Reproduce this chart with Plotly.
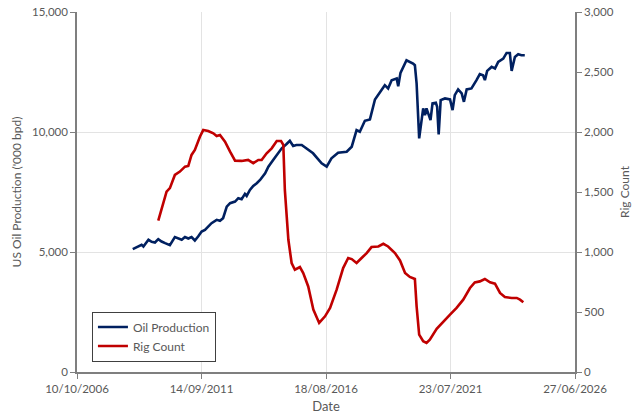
import plotly.graph_objects as go

oil_dates = [
    "2008-12-24", "2009-02-21", "2009-05-01", "2009-05-27", "2009-07-13", "2009-08-08",
    "2009-09-24", "2009-11-10", "2009-12-28", "2010-02-14", "2010-04-06", "2010-06-14",
    "2010-08-25", "2010-10-12", "2010-12-02", "2011-01-18", "2011-03-07", "2011-04-23",
    "2011-06-10", "2011-07-27", "2011-09-16", "2011-11-03", "2012-02-06", "2012-04-20",
    "2012-06-07", "2012-07-22", "2012-09-13", "2012-10-31", "2013-01-11", "2013-02-27",
    "2013-04-16", "2013-06-03", "2013-06-28", "2013-08-14", "2013-10-01", "2013-11-21",
    "2014-01-08", "2014-03-22", "2014-05-08", "2014-07-16", "2014-09-27", "2014-11-17",
    "2015-01-26", "2015-03-14", "2015-05-01", "2015-06-17", "2015-09-02",
    "2016-02-13", "2016-06-16", "2016-08-28", "2016-11-05", "2017-02-09",
    "2017-06-13", "2017-08-25", "2017-11-03", "2017-12-20", "2018-03-03", "2018-05-15",
    "2018-07-27", "2018-10-08", "2018-12-16", "2019-02-02", "2019-03-25", "2019-06-06",
    "2019-06-28", "2019-07-31", "2019-10-26", "2020-01-29", "2020-02-24", "2020-03-20",
    "2020-04-26", "2020-06-23", "2020-07-19", "2020-08-10", "2020-09-15", "2020-10-07",
    "2020-11-05", "2020-12-23", "2021-01-11", "2021-02-02", "2021-03-03", "2021-05-04",
    "2021-07-16", "2021-08-22", "2021-09-23", "2021-11-10", "2022-01-01", "2022-02-02",
    "2022-03-14", "2022-05-22", "2022-08-03", "2022-09-20", "2022-11-06", "2022-12-02",
    "2023-01-04", "2023-03-10", "2023-04-27", "2023-06-13", "2023-08-25", "2023-10-12",
    "2023-11-28", "2023-12-24", "2024-02-09", "2024-03-28", "2024-05-14", "2024-07-01",
]
oil_values = [
    5121, 5205, 5300, 5230, 5396, 5508,
    5425, 5396, 5537, 5437, 5371, 5288,
    5620, 5579, 5508, 5620, 5562, 5620,
    5479, 5645, 5853, 5924, 6202, 6340,
    6298, 6410, 6893, 7034, 7100, 7242,
    7200, 7420, 7337, 7587, 7753, 7865,
    8002, 8281, 8555, 8834, 9112, 9320,
    9499, 9636, 9416, 9457, 9457,
    9112, 8697, 8555, 8904, 9137,
    9179, 9387, 10081, 10010, 10467, 10526,
    11357, 11673, 11951, 11814, 12159, 12230,
    11910, 12463, 12991, 12854, 12783, 12022,
    9736, 10983, 10704, 10983, 10704, 10497,
    11191, 11216, 11050, 9902, 11328, 11398,
    11357, 10912, 11536, 11773, 11606, 11257,
    11773, 11814, 12159, 12409, 12367, 12159,
    12546, 12712, 12646, 12920, 13061, 13294,
    13294, 12546, 13128, 13240, 13198, 13198,
]

rig_dates = [
    "2009-12-28", "2010-02-14", "2010-04-27", "2010-06-14", "2010-08-25", "2010-11-06",
    "2011-01-18", "2011-03-07", "2011-04-23", "2011-06-10", "2011-08-22", "2011-10-09",
    "2011-12-20", "2012-03-03", "2012-04-20", "2012-06-07", "2012-08-19", "2012-10-31",
    "2013-01-11", "2013-04-16", "2013-07-19", "2013-10-01", "2013-12-13", "2014-01-30",
    "2014-04-13", "2014-06-25", "2014-09-06", "2014-11-07", "2014-12-10", "2015-01-01",
    "2015-02-21", "2015-04-09", "2015-05-26", "2015-08-07", "2015-09-24", "2015-12-05",
    "2016-02-17", "2016-05-11", "2016-08-04", "2016-10-16", "2017-01-19", "2017-04-23",
    "2017-07-05", "2017-08-25", "2017-11-03", "2018-01-15", "2018-03-29", "2018-06-07",
    "2018-09-13", "2018-11-25", "2019-02-02", "2019-05-12", "2019-07-24", "2019-10-05",
    "2019-12-13", "2020-02-24", "2020-03-20", "2020-04-26", "2020-06-23", "2020-08-10",
    "2020-09-27", "2021-01-04", "2021-04-09", "2021-07-16", "2021-10-19", "2022-01-23",
    "2022-05-01", "2022-07-09", "2022-09-20", "2022-12-02", "2023-02-14", "2023-04-27",
    "2023-07-09", "2023-09-17", "2023-12-24", "2024-03-07", "2024-04-23", "2024-06-10",
]
rig_values = [
    1262, 1365, 1503, 1532, 1642, 1670,
    1711, 1717, 1809, 1850, 1961, 2016,
    2008, 1989, 1967, 1975, 1919, 1836,
    1761, 1759, 1767, 1740, 1767, 1767,
    1823, 1864, 1925, 1925, 1892, 1517,
    1102, 908, 852, 875, 825, 713,
    520, 409, 464, 534, 686, 866,
    950, 941, 908, 950, 991, 1041,
    1046, 1068, 1046, 991, 930, 825,
    792, 775, 547, 312, 256, 243,
    270, 359, 422, 478, 534, 603,
    700, 747, 755, 775, 747, 736,
    659, 625, 617, 617, 603, 581,
]

x_tick_vals = ["2006-10-10", "2011-09-14", "2016-08-18", "2021-07-23", "2026-06-27"]
x_tick_text = ["10/10/2006", "14/09/2011", "18/08/2016", "23/07/2021", "27/06/2026"]

FONT = "Lato"
GREY = "#595959"
AXIS = "#7f7f7f"
GRID = "#e3e3e3"

fig = go.Figure()
fig.add_trace(go.Scatter(x=oil_dates, y=oil_values, name="Oil Production", mode="lines",
                         line=dict(color="#002060", width=2.6)))
fig.add_trace(go.Scatter(x=rig_dates, y=rig_values, name="Rig Count", mode="lines",
                         line=dict(color="#C00000", width=2.6), yaxis="y2"))

fig.update_layout(
    width=640, height=418,
    margin=dict(l=77, r=65, t=12, b=45.5, autoexpand=False),
    paper_bgcolor="white", plot_bgcolor="white",
    font=dict(family=FONT, size=12, color=GREY),
    showlegend=True,
    legend=dict(x=0.03, y=0.168, xanchor="left", yanchor="top",
                bordercolor="#404040", borderwidth=1, bgcolor="white",
                font=dict(size=12, color=GREY), tracegroupgap=0,
                itemwidth=30),
    xaxis=dict(type="date", range=["2006-10-10", "2026-06-27"], automargin=False,
               tickvals=x_tick_vals, ticktext=x_tick_text,
               showgrid=True, gridcolor=GRID, gridwidth=1,
               showline=True, linecolor=AXIS, linewidth=1.5,
               ticks="outside", ticklen=5, tickcolor=AXIS,
               title=dict(text="Date", font=dict(size=13, color=GREY), standoff=8),
               tickfont=dict(size=11.5, color=GREY), zeroline=False),
    yaxis=dict(range=[0, 15000], tickvals=[0, 5000, 10000, 15000], automargin=False,
               ticktext=["0", "5,000", "10,000", "15,000"],
               showgrid=True, gridcolor=GRID, gridwidth=1,
               showline=True, linecolor=AXIS, linewidth=1.5,
               ticks="outside", ticklen=5, tickcolor=AXIS,
               title=dict(text="US Oil Production ('000 bpd)", font=dict(size=12, color=GREY), standoff=8),
               tickfont=dict(size=11.5, color=GREY), zeroline=False),
    yaxis2=dict(range=[0, 3000], tickvals=[0, 500, 1000, 1500, 2000, 2500, 3000], automargin=False,
                ticktext=["0", "500", "1,000", "1,500", "2,000", "2,500", "3,000"],
                overlaying="y", side="right", showgrid=False,
                showline=True, linecolor=AXIS, linewidth=1.5,
                ticks="outside", ticklen=5, tickcolor=AXIS,
                title=dict(text="Rig Count", font=dict(size=12, color=GREY), standoff=8),
                tickfont=dict(size=11.5, color=GREY), zeroline=False),
)

fig.write_html("out.html")
